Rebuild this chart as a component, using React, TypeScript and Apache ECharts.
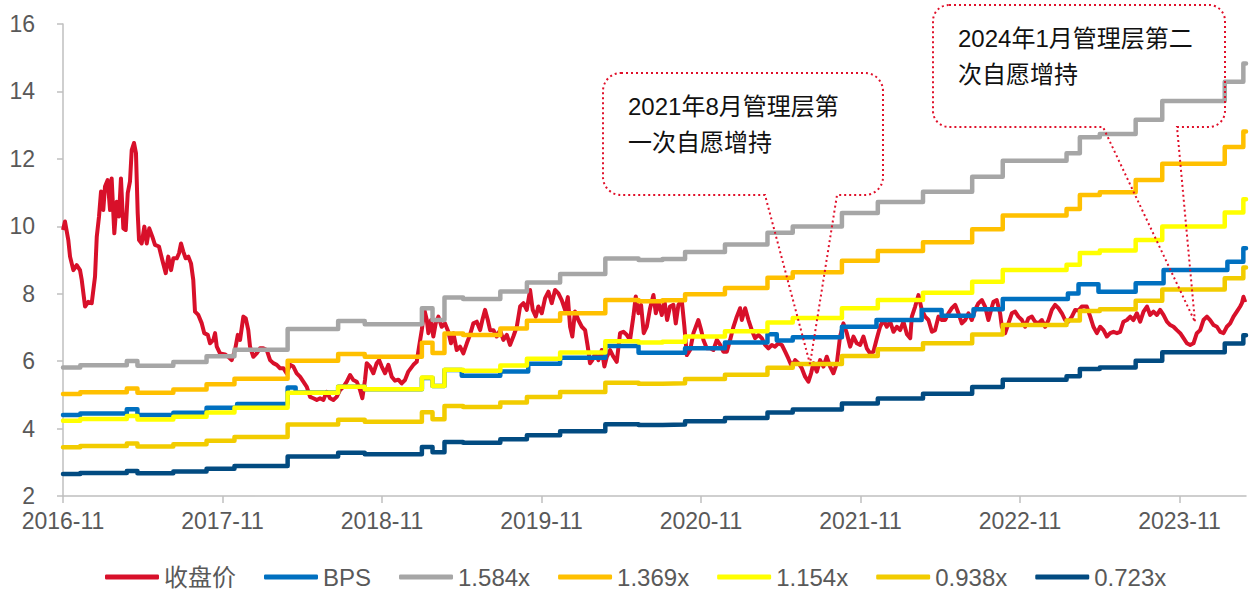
import React, { useEffect, useRef } from "react";
import * as echarts from "echarts";

// x values are months elapsed since 2016-11
const xTickMonths = [0, 12, 24, 36, 48, 60, 72, 84];
const xMax = 89;

// BPS step series: [month, value]
const bps: [number, number][] = [
  [0, 4.4], [1.3, 4.45], [4.8, 4.57], [5.6, 4.4], [8.3, 4.47], [10.8, 4.62], [13.1, 4.73],
  [16.9, 5.22], [17.5, 5.07], [20.7, 5.24], [22.7, 5.17], [27.0, 5.5], [27.8, 5.26], [28.7, 5.74],
  [30.0, 5.57], [32.9, 5.69], [35.0, 5.92], [37.4, 6.1], [40.8, 6.45], [43.3, 6.25], [46.8, 6.38],
  [49.8, 6.55], [53.0, 6.8], [53.7, 6.61], [54.9, 6.71], [58.6, 7.02], [61.2, 7.22], [64.6, 7.52],
  [66.1, 7.35], [68.5, 7.54], [70.7, 7.84], [75.6, 8.01], [76.4, 8.28], [77.9, 8.06], [80.7, 8.31],
  [82.8, 8.7], [87.6, 8.95], [88.8, 9.35], [89.0, 9.35],
];

// Book value per share used for the PB bands: [month, value]
const bandBase: [number, number][] = [
  [0, 3.67], [1.3, 3.71], [4.8, 3.79], [5.6, 3.7], [8.3, 3.77], [10.8, 3.88], [12.9, 4.0],
  [16.9, 4.39], [20.7, 4.54], [22.7, 4.48], [27.0, 4.78], [27.8, 4.56], [28.7, 4.98], [30.1, 4.95],
  [32.9, 5.09], [34.9, 5.26], [37.4, 5.42], [40.8, 5.71], [43.3, 5.68], [45.1, 5.7], [46.8, 5.83],
  [49.8, 5.97], [53.0, 6.19], [54.9, 6.31], [58.6, 6.56], [61.3, 6.77], [64.7, 6.96], [68.4, 7.24],
  [70.7, 7.54], [75.5, 7.68], [76.5, 7.98], [78.0, 8.04], [80.7, 8.31], [82.7, 8.66], [87.4, 9.02],
  [88.8, 9.36], [89.0, 9.36],
];

const bandMultiples = [1.584, 1.369, 1.154, 0.938, 0.723];
const bandNames = ["1.584x", "1.369x", "1.154x", "0.938x", "0.723x"];

// Closing price: [month, value]
const closePrice: [number, number][] = [
  [0,9.89],[0.15,10.14],[0.40,9.59],[0.53,9.10],[0.78,8.70],[1.03,8.85],[1.28,8.70],[1.41,8.41],[1.66,7.62],[1.90,7.76],[2.16,7.72],[2.41,8.51],[2.54,9.69],[2.71,10.29],[2.86,11.03],[3.03,10.48],[3.16,11.18],[3.36,11.37],[3.54,10.48],[3.66,11.42],[3.86,9.79],[4.04,10.73],[4.21,10.29],[4.36,11.42],[4.54,9.94],[4.72,9.89],[4.87,10.98],[5.04,11.33],[5.17,12.26],[5.34,12.47],[5.49,12.17],[5.62,10.39],[5.72,9.59],[5.92,9.49],[6.12,9.99],[6.30,9.49],[6.49,9.94],[6.72,9.69],[6.92,9.45],[7.22,9.40],[7.47,9.00],[7.73,8.61],[7.92,9.10],[8.13,8.70],[8.30,9.05],[8.56,9.05],[8.73,9.20],[8.88,9.49],[9.05,9.25],[9.23,9.05],[9.43,9.10],[9.63,8.90],[9.80,8.41],[9.93,7.47],[10.18,7.37],[10.44,7.12],[10.63,6.83],[10.89,6.78],[11.06,6.53],[11.31,6.63],[11.44,6.83],[11.57,6.43],[11.81,6.23],[12.19,6.20],[12.44,6.13],[12.69,6.03],[12.94,6.33],[13.15,6.78],[13.32,6.63],[13.57,7.32],[13.75,7.27],[13.94,6.92],[14.07,6.43],[14.32,6.13],[14.57,6.23],[14.82,6.38],[15.07,6.38],[15.33,6.33],[15.58,6.03],[15.82,5.94],[16.08,5.89],[16.33,5.79],[16.58,5.79],[16.83,5.64],[17.08,5.89],[17.33,5.84],[17.58,5.64],[17.83,5.54],[18.08,5.39],[18.34,5.24],[18.59,4.94],[18.83,4.90],[19.09,4.85],[19.34,4.90],[19.59,4.85],[19.84,5.09],[20.09,4.90],[20.34,4.85],[20.59,4.94],[20.84,5.14],[21.09,5.24],[21.35,5.39],[21.60,5.59],[21.84,5.44],[22.10,5.39],[22.35,5.14],[22.52,4.90],[22.72,5.44],[22.85,5.94],[23.10,5.84],[23.35,5.64],[23.60,5.94],[23.78,6.03],[23.98,5.84],[24.23,5.64],[24.48,5.89],[24.73,5.54],[24.98,5.42],[25.23,5.45],[25.48,5.34],[25.73,5.44],[25.98,5.69],[26.36,5.89],[26.61,5.98],[26.79,6.43],[26.99,6.92],[27.19,7.52],[27.37,7.22],[27.49,6.83],[27.69,7.22],[27.86,6.73],[28.04,7.12],[28.24,7.32],[28.49,7.02],[28.74,7.12],[28.99,6.87],[29.19,6.53],[29.37,6.83],[29.62,6.33],[29.87,6.43],[30.12,6.23],[30.38,6.53],[30.62,6.78],[30.87,7.12],[31.13,7.17],[31.38,6.92],[31.55,7.22],[31.75,7.52],[31.96,7.22],[32.13,6.92],[32.38,6.92],[32.63,6.73],[32.88,6.92],[33.13,6.63],[33.39,6.78],[33.63,6.48],[33.88,6.73],[34.14,7.02],[34.39,7.62],[34.64,7.72],[34.89,7.52],[35.14,8.11],[35.34,7.52],[35.57,7.32],[35.76,7.62],[36.02,7.42],[36.27,7.87],[36.52,8.06],[36.77,7.72],[37.02,8.11],[37.27,8.01],[37.52,7.81],[37.77,7.52],[37.98,7.90],[38.15,7.02],[38.32,6.73],[38.52,7.47],[38.77,7.22],[39.03,7.02],[39.28,6.92],[39.48,6.43],[39.65,5.94],[39.83,6.03],[40.03,6.23],[40.28,6.03],[40.53,6.33],[40.73,5.84],[40.91,6.13],[41.16,6.33],[41.41,6.13],[41.66,5.98],[41.91,6.83],[42.16,6.87],[42.41,6.78],[42.66,6.63],[42.91,7.32],[43.09,7.92],[43.29,7.42],[43.49,7.67],[43.69,6.83],[43.92,7.02],[44.17,7.57],[44.42,7.96],[44.60,7.42],[44.79,7.76],[45.05,7.37],[45.24,7.81],[45.45,7.22],[45.67,7.62],[45.92,7.67],[46.10,7.12],[46.30,7.67],[46.55,7.81],[46.75,7.02],[46.93,6.18],[47.18,6.33],[47.43,6.83],[47.61,7.02],[47.80,7.22],[48.01,6.92],[48.18,6.63],[48.43,6.38],[48.68,6.38],[48.93,6.33],[49.19,6.63],[49.44,6.48],[49.68,6.28],[49.94,6.28],[50.19,6.63],[50.44,7.02],[50.69,7.32],[50.94,7.57],[51.07,7.22],[51.32,7.57],[51.57,7.22],[51.82,6.92],[52.07,6.68],[52.32,6.78],[52.57,6.68],[52.82,6.48],[53.07,6.38],[53.33,6.48],[53.57,6.43],[53.82,6.53],[54.08,6.48],[54.33,6.28],[54.57,6.08],[54.83,5.84],[55.08,6.03],[55.33,5.94],[55.58,5.79],[55.83,5.54],[56.08,5.39],[56.28,5.64],[56.46,5.94],[56.71,5.69],[56.96,6.03],[57.21,5.84],[57.46,6.13],[57.71,5.84],[57.96,5.64],[58.22,5.94],[58.46,6.73],[58.71,7.12],[58.97,6.83],[59.22,6.43],[59.47,6.73],[59.72,6.53],[59.97,6.48],[60.22,6.73],[60.47,6.38],[60.72,6.23],[60.97,6.28],[61.23,6.68],[61.47,7.02],[61.72,7.22],[61.98,7.02],[62.23,7.17],[62.48,6.87],[62.73,7.02],[62.98,6.92],[63.23,7.17],[63.49,6.80],[63.74,6.68],[63.86,7.32],[64.11,7.62],[64.36,7.96],[64.61,7.52],[64.86,7.32],[65.11,7.22],[65.37,6.87],[65.61,6.92],[65.86,7.32],[66.12,7.22],[66.37,7.22],[66.61,7.42],[66.87,7.57],[67.12,7.67],[67.37,7.42],[67.62,7.12],[67.87,7.22],[68.12,7.42],[68.37,7.22],[68.62,7.52],[68.87,7.72],[69.13,7.81],[69.37,7.62],[69.62,7.22],[69.82,7.52],[70.00,7.76],[70.25,7.81],[70.50,7.42],[70.63,7.02],[70.88,6.83],[71.13,7.12],[71.38,7.42],[71.63,7.47],[71.88,7.32],[72.14,7.22],[72.38,7.02],[72.63,7.27],[72.89,7.32],[73.13,7.17],[73.38,7.12],[73.64,7.22],[73.89,7.02],[74.14,7.22],[74.39,7.52],[74.64,7.67],[74.89,7.57],[75.15,7.42],[75.39,7.22],[75.64,7.17],[75.90,7.32],[76.15,7.52],[76.40,7.50],[76.65,7.62],[77.02,7.62],[77.28,7.32],[77.52,7.02],[77.78,6.83],[78.03,7.02],[78.28,6.92],[78.53,6.73],[78.78,6.83],[79.03,6.87],[79.29,6.83],[79.53,6.87],[79.78,7.17],[80.04,7.22],[80.29,7.32],[80.53,7.22],[80.79,7.42],[81.04,7.17],[81.29,7.47],[81.55,7.62],[81.79,7.37],[82.04,7.47],[82.30,7.37],[82.54,7.52],[82.79,7.37],[83.05,7.17],[83.30,7.07],[83.55,7.02],[83.80,6.92],[84.05,6.83],[84.30,6.68],[84.55,6.53],[84.80,6.48],[85.05,6.53],[85.30,6.83],[85.55,6.92],[85.80,7.22],[86.06,7.32],[86.30,7.22],[86.56,7.07],[86.81,7.02],[87.06,6.87],[87.31,6.83],[87.56,7.02],[87.81,7.12],[88.06,7.32],[88.31,7.47],[88.56,7.62],[88.69,7.72],[88.81,7.91],[88.94,7.75],
];

const annotationTexts = ["2021年8月管理层第\n一次自愿增持", "2024年1月管理层第二\n次自愿增持"];

const COLORS = {
  price: "#D8102A",
  bps: "#0070C0",
  bands: ["#A6A6A6", "#FFC000", "#FFFF00", "#F2CC00", "#024B81"],
};

const FONT = "'Liberation Sans', Arial, 'Noto Sans CJK SC', sans-serif";

function calloutPath(x0: number, y0: number, x1: number, y1: number, r: number, xa: number, xb: number, tx: number, ty: number) {
  return [
    `M${x0 + r},${y0}`,
    `L${x1 - r},${y0}`,
    `A${r},${r} 0 0 1 ${x1},${y0 + r}`,
    `L${x1},${y1 - r}`,
    `A${r},${r} 0 0 1 ${x1 - r},${y1}`,
    `L${xb},${y1}`,
    `L${tx},${ty}`,
    `L${xa},${y1}`,
    `L${x0 + r},${y1}`,
    `A${r},${r} 0 0 1 ${x0},${y1 - r}`,
    `L${x0},${y0 + r}`,
    `A${r},${r} 0 0 1 ${x0 + r},${y0}`,
    "Z",
  ].join(" ");
}

echarts.graphic.registerShape("callout1", echarts.graphic.extendPath(calloutPath(603, 73, 883, 195, 18, 765, 837, 810, 364), {}));
echarts.graphic.registerShape("callout2", echarts.graphic.extendPath(calloutPath(933, 5, 1225, 127, 16, 1103, 1177, 1195, 322), {}));

function monthLabel(m: number) {
  const total = 10 + Math.round(m);
  const y = 2016 + Math.floor(total / 12);
  const mo = (total % 12) + 1;
  return `${y}-${mo < 10 ? "0" + mo : mo}`;
}

export default function App() {
  const ref = useRef<HTMLDivElement>(null);
  useEffect(() => {
    document.body.style.margin = "0";
    const chart = echarts.init(ref.current!, null, { renderer: "svg" });
    const lineCommon = { type: "line", showSymbol: false, symbol: "none", silent: true };
    const bandSeries = bandNames.map((name, i) => ({
      ...lineCommon,
      name,
      step: "end",
      data: bandBase.map(([m, v]) => [m, v * bandMultiples[i]]),
      itemStyle: { color: COLORS.bands[i] },
      lineStyle: { color: COLORS.bands[i], width: 4.5, join: "round", cap: "round" },
    }));
    const dotted = { fill: "none", stroke: "#E0102A", lineWidth: 2, lineDash: [2, 3] };
    chart.setOption({
      animation: false,
      grid: { left: 63, right: 5, top: 24, bottom: 96, containLabel: false },
      legend: {
        left: 105,
        top: 565,
        padding: 0,
        itemGap: 28,
        itemWidth: 54,
        itemHeight: 5,
        icon: "roundRect",
        textStyle: { fontSize: 24, color: "#595959", fontFamily: FONT },
        data: ["收盘价", "BPS", ...bandNames],
      },
      xAxis: {
        type: "value",
        min: 0,
        max: xMax,
        splitLine: { show: false },
        axisLine: { lineStyle: { color: "#BFBFBF", width: 1.5 } },
        axisTick: { show: true, length: 7, customValues: xTickMonths, lineStyle: { color: "#BFBFBF", width: 1.5 } },
        axisLabel: {
          customValues: xTickMonths,
          formatter: (v: number) => monthLabel(v),
          fontSize: 23,
          color: "#595959",
          fontFamily: FONT,
          margin: 13,
        },
      },
      yAxis: {
        type: "value",
        min: 2,
        max: 16,
        interval: 2,
        splitLine: { show: false },
        axisLine: { show: true, lineStyle: { color: "#BFBFBF", width: 1.5 } },
        axisTick: { show: true, length: 6, lineStyle: { color: "#BFBFBF", width: 1.5 } },
        axisLabel: { fontSize: 23, color: "#595959", fontFamily: FONT, margin: 28 },
      },
      series: [
        {
          ...lineCommon,
          name: "收盘价",
          data: closePrice,
          itemStyle: { color: COLORS.price },
          lineStyle: { color: COLORS.price, width: 4, join: "round" },
        },
        {
          ...lineCommon,
          name: "BPS",
          step: "end",
          data: bps,
          itemStyle: { color: COLORS.bps },
          lineStyle: { color: COLORS.bps, width: 4.5, join: "round", cap: "round" },
        },
        ...bandSeries,
      ],
      graphic: [
        { type: "callout1", x: 0, y: 0, silent: true, z: 100, style: dotted },
        { type: "callout2", x: 0, y: 0, silent: true, z: 100, style: dotted },
        {
          type: "text", x: 628, y: 88, z: 101, silent: true,
          style: { text: annotationTexts[0], fontSize: 24, lineHeight: 36, fill: "#111", fontFamily: FONT },
        },
        {
          type: "text", x: 958, y: 20, z: 101, silent: true,
          style: { text: annotationTexts[1], fontSize: 24, lineHeight: 36, fill: "#111", fontFamily: FONT },
        },
      ],
    });
    return () => chart.dispose();
  }, []);
  return <div ref={ref} style={{ width: 1251, height: 592 }} />;
}
